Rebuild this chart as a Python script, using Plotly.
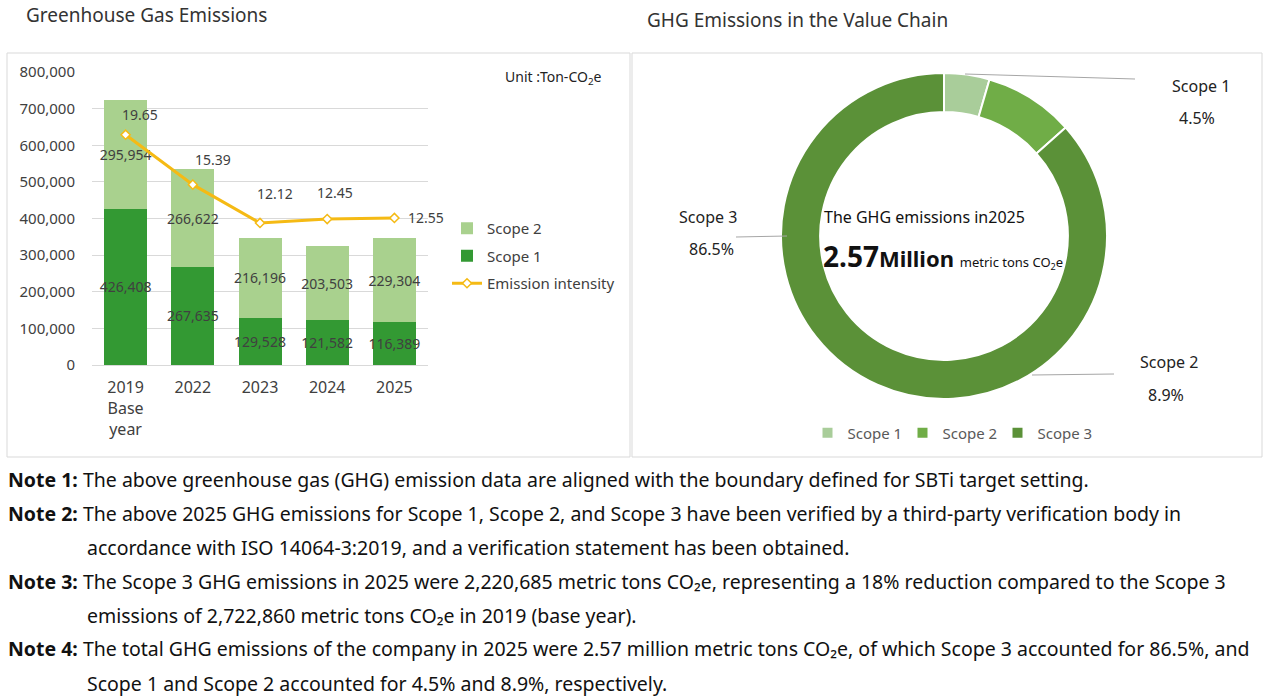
import plotly.graph_objects as go

# bar chart data (Ton-CO2e)
years = ["2019", "2022", "2023", "2024", "2025"]
year_ticks = ["2019<br>Base<br>year", "2022", "2023", "2024", "2025"]
scope1 = [426408, 267635, 129528, 121582, 116389]
scope2 = [295954, 266622, 216196, 203503, 229304]
intensity = [19.65, 15.39, 12.12, 12.45, 12.55]

# value chain donut (2025)
chain_labels = ["Scope 1", "Scope 2", "Scope 3"]
chain_share = [4.5, 8.9, 86.5]
total_2025 = 2.57

notes = [
    ("Note 1:", "The above greenhouse gas (GHG) emission data are aligned with the boundary defined for SBTi target setting."),
    ("Note 2:", "The above 2025 GHG emissions for Scope 1, Scope 2, and Scope 3 have been verified by a third-party verification body in"),
    ("", "accordance with ISO 14064-3:2019, and a verification statement has been obtained."),
    ("Note 3:", "The Scope 3 GHG emissions in 2025 were 2,220,685 metric tons CO\u2082e, representing a 18% reduction compared to the Scope 3"),
    ("", "emissions of 2,722,860 metric tons CO\u2082e in 2019 (base year)."),
    ("Note 4:", "The total GHG emissions of the company in 2025 were 2.57 million metric tons CO\u2082e, of which Scope 3 accounted for 86.5%, and"),
    ("", "Scope 1 and Scope 2 accounted for 4.5% and 8.9%, respectively."),
]

W, H = 1268, 696
FONT = "Noto Sans"
TXT = "#404040"


def px(x):
    return x / W


def py(y):
    return 1 - y / H


def label(x, y, text, size, color="#222", anchor="center"):
    fig.add_annotation(x=px(x), y=py(y), xref="paper", yref="paper", text=text,
                       xanchor=anchor, yanchor="middle", showarrow=False,
                       font=dict(size=size, color=color))


fig = go.Figure()

fig.add_trace(go.Bar(
    x=years, y=scope1, name="Scope 1", marker_color="#339933",
    text=scope1, texttemplate="%{y:,}", textposition="inside", textangle=0,
    insidetextanchor="middle", constraintext="none",
    textfont=dict(color=TXT, size=14), legendrank=2, legendgroup="s1",
))
fig.add_trace(go.Bar(
    x=years, y=scope2, name="Scope 2", marker_color="#A9D18E",
    text=scope2, texttemplate="%{y:,}", textposition="inside", textangle=0,
    insidetextanchor="middle", constraintext="none",
    textfont=dict(color=TXT, size=14), legendrank=1, legendgroup="s2",
))
fig.add_trace(go.Scatter(
    x=years, y=intensity, name="Emission intensity", yaxis="y2",
    mode="lines+markers", line=dict(color="#F5BA14", width=3),
    marker=dict(symbol="diamond", size=7, color="white", line=dict(color="#F5BA14", width=1.5)),
    legendrank=3, legendgroup="ei",
))

# intensity labels
label_shift = [(14, 20), (20, 25), (15, 29), (8, 27), (32, 0)]
for i, (v, (dx, dy)) in enumerate(zip(intensity, label_shift)):
    fig.add_annotation(x=i, y=v, xref="x", yref="y2", text=f"{v:.2f}",
                       showarrow=False, xshift=dx, yshift=dy,
                       xanchor="center", yanchor="middle",
                       font=dict(color=TXT, size=14))

fig.add_trace(go.Pie(
    labels=chain_labels, values=chain_share, hole=0.76, sort=False,
    direction="clockwise", rotation=0, textinfo="none",
    marker=dict(colors=["#A9CD9A", "#70AD47", "#5B9138"], line=dict(color="white", width=2)),
    domain=dict(x=[px(781), px(1107)], y=[py(399), py(73)]),
    legend="legend2", hoverinfo="label+percent",
))

# donut labels and leader lines
donut_pos = {"Scope 1": ((1201, 86), (1197, 118), (965, 74, 1135, 79)),
             "Scope 2": ((1169, 362), (1166, 395), (1032, 375, 1114, 374)),
             "Scope 3": ((708, 217), (711, 249), (736, 237, 787, 236))}
for name, share in zip(chain_labels, chain_share):
    (nx, ny), (sx, sy), (x0, y0, x1, y1) = donut_pos[name]
    label(nx, ny, name, 16)
    label(sx, sy, f"{share}%", 16)
    fig.add_shape(type="line", xref="paper", yref="paper", x0=px(x0), y0=py(y0),
                  x1=px(x1), y1=py(y1), line=dict(color="#A6A6A6", width=1))

label(924, 217, "The GHG emissions in2025", 16, "#111")
label(821, 256, (f"<b><span style='font-size:28px'>{total_2025}</span>Million</b> "
                 "<span style='font-size:13px'>metric tons CO<sub>2</sub>e</span>"),
      22, "#111", "left")

# panel frames
for x0, x1 in [(7, 630), (632, 1262)]:
    fig.add_shape(type="rect", xref="paper", yref="paper", x0=px(x0), x1=px(x1),
                  y0=py(457), y1=py(53), line=dict(color="#D9D9D9", width=1), layer="below")

# titles and unit
label(24, 15, "Greenhouse Gas Emissions", 19, "#333", "left")
label(797, 20, "GHG Emissions in the Value Chain", 19, "#333")
label(503, 77, "Unit :Ton-CO<sub>2</sub>e", 14, "#222", "left")

# notes
note_y = [479, 513, 547, 581, 615, 648, 683]
for (head, body), ny in zip(notes, note_y):
    if head:
        label(6, ny, f"<b>{head}</b> {body}", 19.5, "#111", "left")
    else:
        label(85, ny, body, 19.5, "#111", "left")

fig.update_layout(
    template="none",
    width=W, height=H, margin=dict(l=0, r=0, t=0, b=0, autoexpand=False),
    paper_bgcolor="white", plot_bgcolor="white",
    font=dict(family=FONT, color=TXT),
    barmode="stack", bargap=0.36,
    xaxis=dict(domain=[px(92), px(428)], type="category", automargin=False,
               range=[-0.5, 4.5], tickvals=years, ticktext=year_ticks, tickangle=0,
               tickfont=dict(size=16, color="#404040"), showline=True,
               linecolor="#D9D9D9", ticks="", showgrid=False, ticklabelstandoff=8),
    yaxis=dict(domain=[py(365), py(72)], range=[0, 800000], dtick=100000, automargin=False,
               tickformat=",", gridcolor="#D9D9D9", zeroline=False, showline=False, ticks="",
               tickfont=dict(size=15, color="#404040"), ticklabelstandoff=16),
    yaxis2=dict(overlaying="y", range=[0, 25], visible=False),
    legend=dict(x=px(447), y=py(212), xanchor="left", yanchor="top",
                traceorder="grouped", tracegroupgap=5,
                font=dict(size=15, color="#404040"), bgcolor="rgba(0,0,0,0)"),
    legend2=dict(orientation="h", x=px(950), y=py(433), xanchor="center", yanchor="middle",
                 entrywidth=50, font=dict(size=15, color="#595959"), bgcolor="rgba(0,0,0,0)"),
)

fig.write_html("out.html", config={"displayModeBar": False},
               post_script="document.body.style.margin = '0';")
